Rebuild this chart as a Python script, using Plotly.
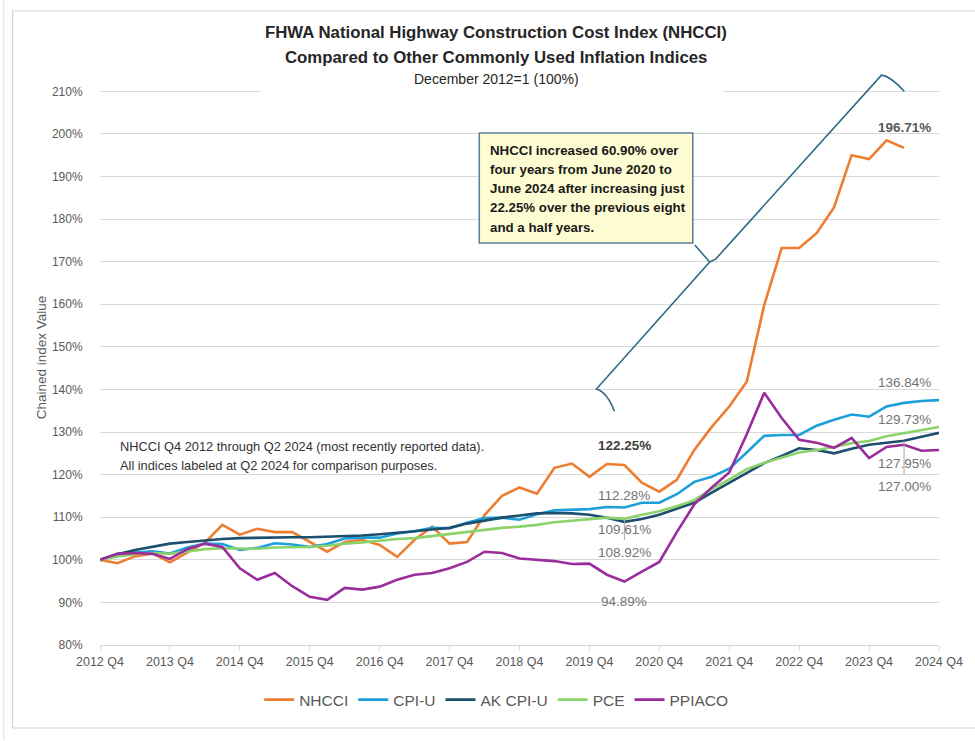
import plotly.graph_objects as go

# ---------------- data ----------------
tick_labels = ["2012 Q4", "2013 Q4", "2014 Q4", "2015 Q4", "2016 Q4", "2017 Q4", "2018 Q4",
               "2019 Q4", "2020 Q4", "2021 Q4", "2022 Q4", "2023 Q4", "2024 Q4"]

nhcci = [100.0, 99.2, 100.8, 101.5, 99.4, 101.8, 104.0, 108.2, 105.9, 107.3, 106.5, 106.5,
         104.2, 101.9, 104.2, 104.7, 103.5, 100.7, 104.7, 107.8, 103.8, 104.2, 110.5, 115.0,
         117.0, 115.5, 121.6, 122.6, 119.5, 122.5, 122.25, 118.1, 116.0, 118.8, 125.8, 131.2,
         136.0, 141.8, 159.8, 173.2, 173.2, 176.7, 182.8, 195.0, 194.1, 198.5, 196.71]

cpi_u = [100.0, 101.4, 101.7, 102.0, 101.5, 102.9, 103.8, 103.7, 102.3, 102.8, 103.9, 103.6,
         103.0, 103.7, 105.0, 105.2, 105.2, 106.2, 106.7, 107.5, 107.4, 108.7, 109.8, 109.9,
         109.4, 110.7, 111.6, 111.8, 111.9, 112.4, 112.28, 113.4, 113.4, 115.4, 118.3, 119.5,
         121.4, 125.2, 129.1, 129.3, 129.3, 131.5, 132.9, 134.1, 133.6, 136.0, 136.84, 137.3, 137.5]

ak_cpi_u = [100.0, 101.3, 102.3, 103.1, 103.8, 104.2, 104.6, 104.9, 105.1, 105.2, 105.3, 105.3,
            105.3, 105.4, 105.5, 105.7, 106.0, 106.3, 106.7, 107.1, 107.5, 108.5, 109.2, 109.9,
            110.4, 110.9, 111.0, 110.9, 110.6, 109.9, 108.92, 109.6, 110.6, 112.0, 113.4, 115.8,
            118.1, 120.4, 122.7, 124.4, 126.2, 125.8, 125.0, 126.1, 127.0, 127.5, 127.95, 128.9, 129.8]

pce = [100.0, 100.8, 101.3, 101.6, 101.4, 101.9, 102.5, 102.7, 102.6, 102.6, 102.9, 103.0,
       103.0, 103.3, 103.8, 104.1, 104.5, 104.9, 105.1, 105.6, 106.1, 106.6, 107.1, 107.5,
       107.8, 108.2, 108.8, 109.2, 109.6, 109.9, 109.61, 110.6, 111.4, 112.6, 114.0, 116.6,
       118.9, 121.3, 122.8, 124.0, 125.2, 125.8, 126.5, 127.4, 127.9, 129.0, 129.73, 130.4, 131.2]

ppiaco = [100.0, 101.4, 101.6, 101.4, 100.2, 102.5, 103.8, 103.0, 98.0, 95.3, 96.9, 93.8,
          91.3, 90.6, 93.4, 93.0, 93.7, 95.3, 96.5, 96.9, 98.0, 99.5, 101.9, 101.6,
          100.3, 100.0, 99.7, 99.0, 99.1, 96.5, 94.89, 97.2, 99.5, 106.5, 113.0, 117.0,
          120.5, 129.5, 139.2, 133.3, 128.2, 127.5, 126.3, 128.6, 123.9, 126.5, 127.0, 125.6, 125.8]

series_names = ["NHCCI", "CPI-U", "AK CPI-U", "PCE", "PPIACO"]
series_values = [nhcci, cpi_u, ak_cpi_u, pce, ppiaco]
series_colors = ["#ED7D31", "#1E9FD9", "#1C4E6E", "#8CD26A", "#9A2C9C"]

# ---------------- figure ----------------
W, H = 975, 741
ML, MR, MT, MB = 100, 30, 70, 96
PW, PH = W - ML - MR, H - MT - MB


def X(p):
    return (p - ML) / PW


def Y(p):
    return (H - MB - p) / PH


FONT = "Liberation Sans, Arial, sans-serif"
GREY = "#595959"

fig = go.Figure()
for name, vals, col in zip(series_names, series_values, series_colors):
    fig.add_trace(go.Scatter(x=list(range(len(vals))), y=vals, mode="lines", name=name,
                             line=dict(color=col, width=2.6)))

fig.update_xaxes(range=[0, 48], tickvals=list(range(0, 49, 4)), ticktext=tick_labels,
                 showgrid=False, zeroline=False, showline=True, linecolor="#d9d9d9", linewidth=1,
                 ticks="outside", ticklen=5, tickcolor="#d9d9d9",
                 tickfont=dict(family=FONT, size=12.5, color=GREY))
fig.update_yaxes(range=[80, 215], tickvals=list(range(80, 211, 10)),
                 ticktext=[f"{v}%" for v in range(80, 211, 10)],
                 showgrid=True, gridcolor="#d9d9d9", gridwidth=1, zeroline=False, showline=False,
                 ticks="outside", ticklen=14, tickcolor="rgba(0,0,0,0)",
                 tickfont=dict(family=FONT, size=12, color=GREY),
                 title=dict(text="Chained index Value", standoff=2,
                            font=dict(family=FONT, size=13.5, color=GREY)))

shapes = []
# outer chart frame
shapes.append(dict(type="rect", xref="paper", yref="paper", x0=X(12), x1=X(990), y0=Y(728), y1=Y(11),
                   line=dict(color="#d4d4d4", width=1.2), fillcolor="rgba(0,0,0,0)", layer="below"))
shapes.append(dict(type="line", xref="paper", yref="paper", x0=X(3), x1=X(3), y0=Y(740), y1=Y(0),
                   line=dict(color="#e0e0e0", width=1)))
# white title block covering the top gridline
shapes.append(dict(type="rect", xref="paper", yref="paper", x0=X(262), x1=X(728), y0=Y(97), y1=Y(66),
                   line=dict(width=0), fillcolor="white", layer="above"))
# callout box
shapes.append(dict(type="rect", xref="paper", yref="paper", x0=X(482), x1=X(697), y0=Y(243), y1=Y(133),
                   line=dict(color="#5B7C93", width=1.5), fillcolor="#FEFCD2", layer="above"))
# brace pointing to the callout box (data coordinates: quarter index, percent)
brace = ("M 29.43,134.9 Q 29.0,139.4 28.40,140.1 L 34.88,169.9 L 34.03,173.9 "
         "M 34.88,169.9 L 35.22,170.6 L 44.71,213.8 Q 45.2,213.6 46.01,210.0")
shapes.append(dict(type="path", xref="x", yref="y", path=brace,
                   line=dict(color="#2C6A86", width=1.6)))
# leader lines for data labels
shapes.append(dict(type="line", xref="x", yref="y", x0=46, x1=46, y0=ak_cpi_u[46], y1=ak_cpi_u[46] - 8.0,
                   line=dict(color="#a6a6a6", width=1)))
shapes.append(dict(type="line", xref="x", yref="y", x0=30, x1=30, y0=pce[30], y1=pce[30] - 5.0,
                   line=dict(color="#a6a6a6", width=1)))

ann = []
# titles
for txt, py, size, bold in [("FHWA National Highway Construction Cost Index (NHCCI)", 33, 16.8, True),
                            ("Compared to Other Commonly Used Inflation Indices", 57, 16.8, True),
                            ("December 2012=1 (100%)", 79, 14, False)]:
    ann.append(dict(text=f"<b>{txt}</b>" if bold else txt, x=X(499), y=Y(py),
                    xref="paper", yref="paper", xanchor="center", yanchor="middle", showarrow=False,
                    font=dict(family=FONT, size=size, color="#262626")))
# left note
note_lines = ["NHCCI Q4 2012 through Q2 2024 (most recently reported data).",
              "All indices labeled at Q2 2024 for comparison purposes."]
for i, t in enumerate(note_lines):
    ann.append(dict(text=t, x=X(118), y=Y(446 + 19 * i), xref="paper", yref="paper",
                    xanchor="left", yanchor="middle", showarrow=False,
                    font=dict(family=FONT, size=12.8, color="#333333")))
# callout text
box_lines = ["NHCCI increased 60.90% over", "four years from June 2020 to",
             "June 2024 after increasing just", "22.25% over the previous eight",
             "and a half years."]
for i, t in enumerate(box_lines):
    ann.append(dict(text=f"<b>{t}</b>", x=X(491), y=Y(150 + 19.3 * i), xref="paper", yref="paper",
                    xanchor="left", yanchor="middle", showarrow=False,
                    font=dict(family=FONT, size=13.3, color="#1a1a1a")))

# data labels (index, value, pixel shift, bold, colour)
labels = [
    (46, nhcci[46], 20, True, GREY),
    (46, cpi_u[46], 20, False, "#737373"),
    (46, pce[46], 14, False, "#737373"),
    (46, ak_cpi_u[46], -23, False, "#737373"),
    (46, ppiaco[46], -42, False, "#737373"),
    (30, nhcci[30], 20, True, "#404040"),
    (30, cpi_u[30], 12, False, "#737373"),
    (30, pce[30], -11, False, "#737373"),
    (30, ak_cpi_u[30], -31, False, "#737373"),
    (30, ppiaco[30], -20, False, "#737373"),
]
for xi, v, shift, bold, col in labels:
    txt = f"{v:.2f}%"
    if bold:
        txt = f"<b>{txt}</b>"
    ann.append(dict(text=txt, x=xi, y=v, xref="x", yref="y", yshift=shift, showarrow=False,
                    font=dict(family=FONT, size=13.5, color=col)))

fig.update_layout(
    width=W, height=H, margin=dict(l=ML, r=MR, t=MT, b=MB),
    paper_bgcolor="white", plot_bgcolor="white",
    shapes=shapes, annotations=ann,
    showlegend=True,
    legend=dict(orientation="h", x=X(499), xanchor="center", y=Y(700), yanchor="middle",
                font=dict(family=FONT, size=15.5, color=GREY), itemwidth=30),
    hovermode=False,
)

fig.write_html("out.html", config={"displayModeBar": False},
               post_script="document.body.style.margin='0px';document.body.style.overflow='hidden';")
